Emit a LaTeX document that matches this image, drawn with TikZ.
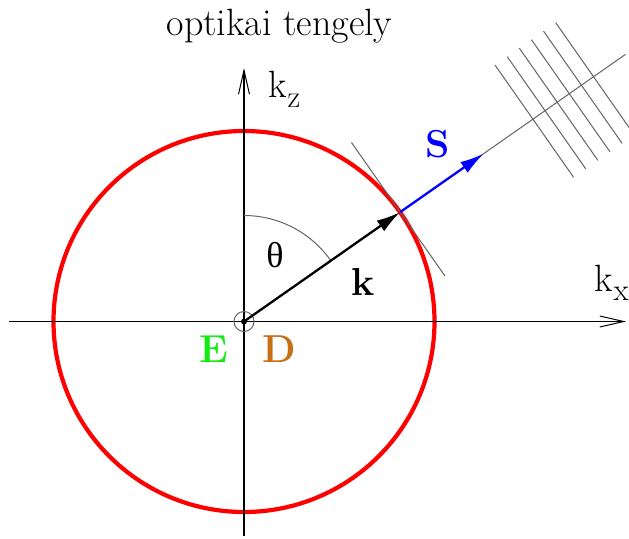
\RequirePackage{fix-cm}
\documentclass[tikz,border=0pt]{standalone}
\usepackage{fontspec}
\newfontfamily\grkfont{Liberation Serif}
\usetikzlibrary{arrows.meta,calc}
\definecolor{egreen}{RGB}{20,235,20}
\definecolor{dbrown}{RGB}{200,110,20}
\definecolor{gline}{RGB}{100,100,100}
\begin{document}
\begin{tikzpicture}[x=1pt,y=-1pt,
  axis/.style={line width=1.3pt,-{Straight Barb[length=24pt,width=11pt,line width=1pt]}},
  thin/.style={line width=1pt,gline},
  lbl/.style={inner sep=0pt,anchor=base west,font=\fontsize{38}{44}\selectfont},
  blbl/.style={inner sep=0pt,anchor=base west,font=\fontsize{39}{44}\selectfont\bfseries},
  vec/.style={line width=2.3pt,-{Latex[length=24pt,width=13pt]}}]
\useasboundingbox (0,0) rectangle (629,538);
\coordinate (O) at (244,321.5);
\coordinate (xs) at (9,321.5);
\coordinate (xe) at (626,321.5);
\coordinate (zs) at (244,536);
\coordinate (ze) at (244,68);
\coordinate (P) at ($(O)+(156.2,-109.4)$);
\coordinate (St) at ($(P)+(102*0.8192,-102*0.5736)$);
\coordinate (Re) at ($(P)+(275*0.8192,-275*0.5736)$);
\coordinate (T1) at ($(P)+(-85*0.5736,-85*0.8192)$);
\coordinate (T2) at ($(P)+(78*0.5736,78*0.8192)$);
% circle
\draw[red,line width=4.2pt] (O) circle[radius=190.5];
% axes
\draw[axis] (xs) -- (xe);
\draw[axis] (zs) -- (ze);
% origin marks
\draw[thin] (O) circle[radius=10];
\fill (O) circle[radius=3];
% theta arc
\draw[thin] ($(O)+(0,-106)$) arc[start angle=-90,end angle=-35,radius=106];
% tangent
\draw[thin] (T1) -- (T2);
% ray and wavefronts
\draw[thin] (P) -- (Re);
\foreach \d in {162,176.8,191.6,206.4,221.2,236}{
  \draw[thin] ($(P)+(\d*0.8192,-\d*0.5736)+(-66*0.5736,-66*0.8192)$) -- ($(P)+(\d*0.8192,-\d*0.5736)+(71*0.5736,71*0.8192)$);
}
% vectors
\draw[vec,blue] (P) -- (St);
\draw[vec,black] (O) -- (P);
% labels
\node[lbl,anchor=base] (title) at (279.5,35) {optikai tengely};
\node[lbl] (kz) at (268,97) {k\kern1pt\raisebox{-10pt}{\fontsize{31}{31}\selectfont z}};
\node[lbl] (kx) at (594,291) {k\kern1pt\raisebox{-9pt}{\fontsize{31}{31}\selectfont x}};
\node[lbl,anchor=base,font=\fontsize{36}{40}\grkfont] (th) at (275,267) {θ};
\node[blbl] (kl) at (351,295) {k};
\node[blbl,blue] (Sl) at (425,157) {S};
\node[blbl,egreen] (El) at (199,362) {E};
\node[blbl,dbrown] (Dl) at (262,362) {D};
\end{tikzpicture}
\end{document}
